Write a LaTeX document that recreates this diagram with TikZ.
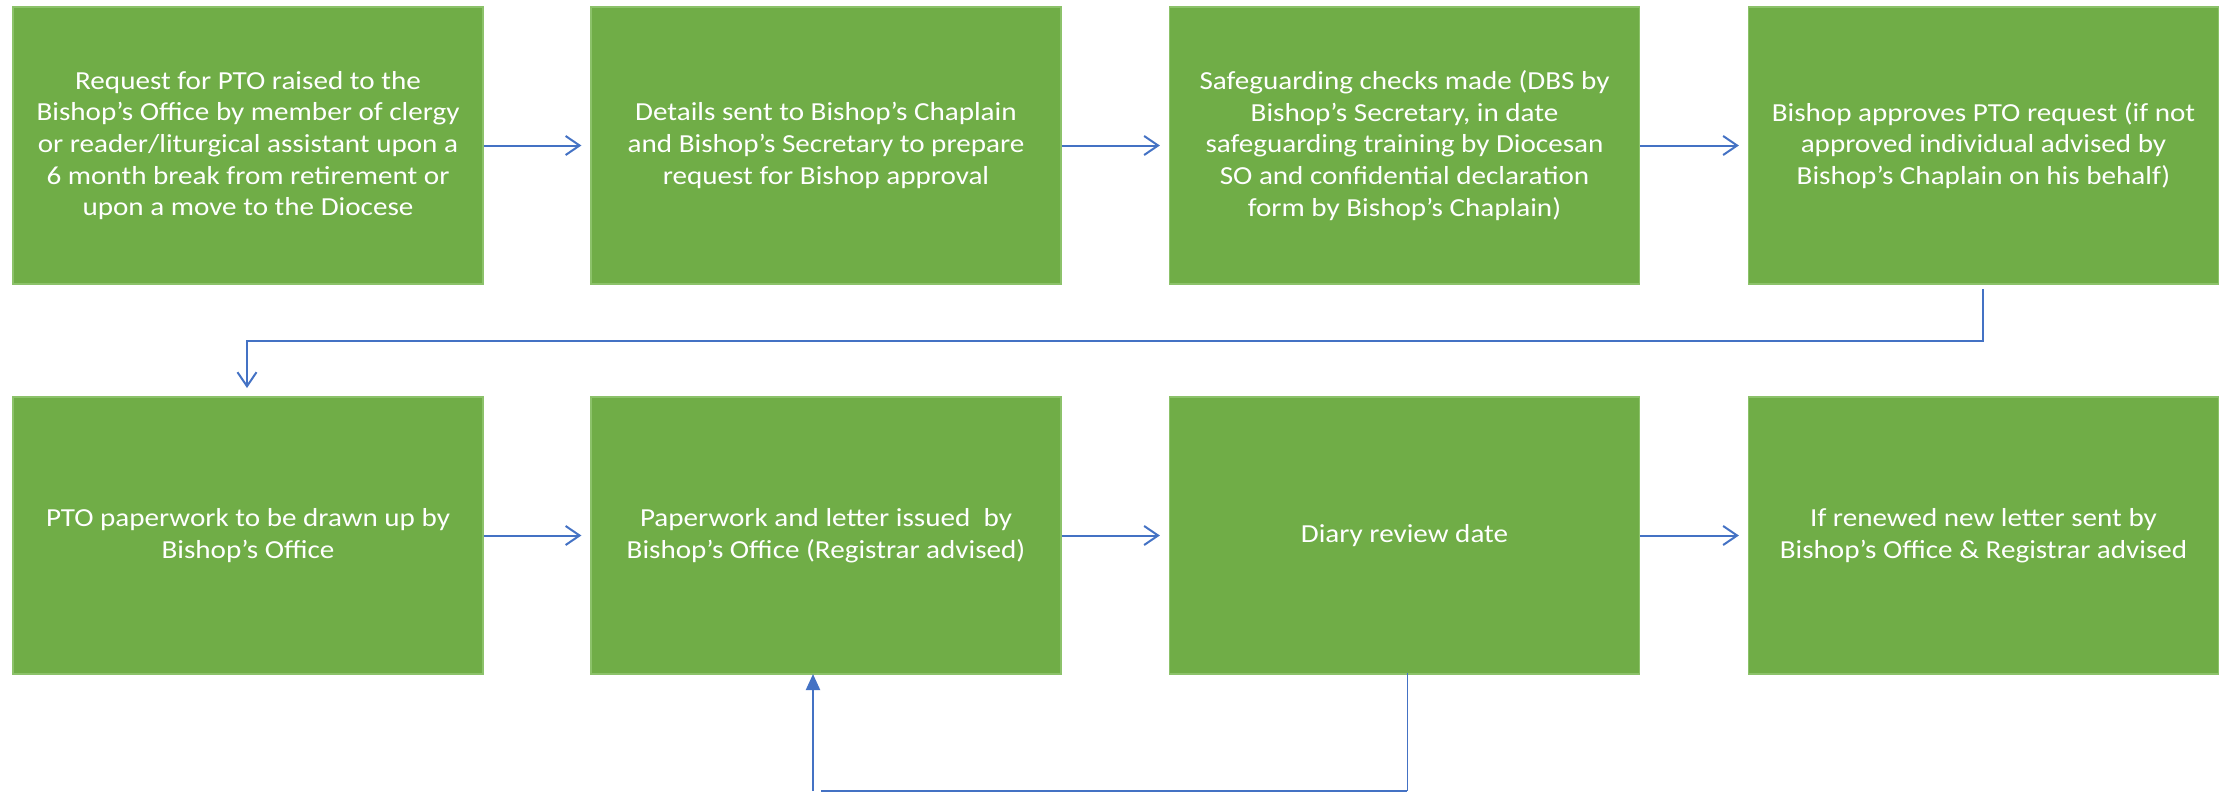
\documentclass[tikz,border=0pt]{standalone}
\usepackage{fontspec}
\setmainfont{Carlito}[FakeStretch=1.12]
\usetikzlibrary{arrows.meta}
\definecolor{boxgreen}{HTML}{70AD47}
\definecolor{boxedge}{HTML}{8CC26A}
\definecolor{lineblue}{HTML}{4472C4}
\begin{document}
\begin{tikzpicture}[x=0.5pt,y=-0.5pt,
  stepbox/.style={rectangle, fill=boxgreen, draw=boxedge, line width=0.6pt,
    minimum width=235pt, minimum height=138.5pt, inner sep=0pt,
    text=white, align=center, font=\fontsize{13}{15.8}\selectfont},
  conn/.style={draw=lineblue, line width=1pt},
  barb/.style={-{Straight Barb[length=7pt,width=9.5pt,line width=1pt]}},
  tri/.style={-{Triangle[length=8pt,width=7pt]}}]
\useasboundingbox (0,0) rectangle (2224,793);
\node[stepbox] (b1) at (248,145.5) {Request for PTO raised to the\\Bishop’s Office by member of clergy\\or reader/liturgical assistant upon a\\6 month break from retirement or\\upon a move to the Diocese};
\node[stepbox] (b2) at (826,145.5) {Details sent to Bishop’s Chaplain\\and Bishop’s Secretary to prepare\\request for Bishop approval};
\node[stepbox] (b3) at (1404.5,145.5) {Safeguarding checks made (DBS by\\Bishop’s Secretary, in date\\safeguarding training by Diocesan\\SO and confidential declaration\\form by Bishop’s Chaplain)};
\node[stepbox] (b4) at (1983.5,145.5) {Bishop approves PTO request (if not\\approved individual advised by\\Bishop’s Chaplain on his behalf)};
\node[stepbox] (b5) at (248,535.5) {PTO paperwork to be drawn up by\\Bishop’s Office};
\node[stepbox] (b6) at (826,535.5) {Paperwork and letter issued\ \ by\\Bishop’s Office (Registrar advised)};
\node[stepbox] (b7) at (1404.5,535.5) {Diary review date};
\node[stepbox] (b8) at (1983.5,535.5) {If renewed new letter sent by\\Bishop’s Office \& Registrar advised};

\draw[conn,barb] (b1.east) -- ([xshift=-4.5pt]b2.west);
\draw[conn,barb] (b2.east) -- ([xshift=-4.5pt]b3.west);
\draw[conn,barb] (b3.east) -- ([xshift=-4.5pt]b4.west);
\draw[conn,barb] (b5.east) -- ([xshift=-4.5pt]b6.west);
\draw[conn,barb] (b6.east) -- ([xshift=-4.5pt]b7.west);
\draw[conn,barb] (b7.east) -- ([xshift=-4.5pt]b8.west);

\coordinate (t1) at (1983,289);
\coordinate (t2) at (1983,341);
\coordinate (t3) at (247,341);
\coordinate (t4) at (247,388);
\draw[conn,barb] (t1) -- (t2) -- (t3) -- (t4);

\coordinate (l1) at (1407,673);
\coordinate (l2) at (1407,791);
\coordinate (l3) at (821,791);
\coordinate (l4) at (813,791);
\coordinate (l5) at (813,674);
\draw[draw=lineblue, line width=0.5pt] (l1) -- (l2);
\draw[conn] (l2) -- (l3);
\draw[conn,tri] (l4) -- (l5);
\end{tikzpicture}
\end{document}
